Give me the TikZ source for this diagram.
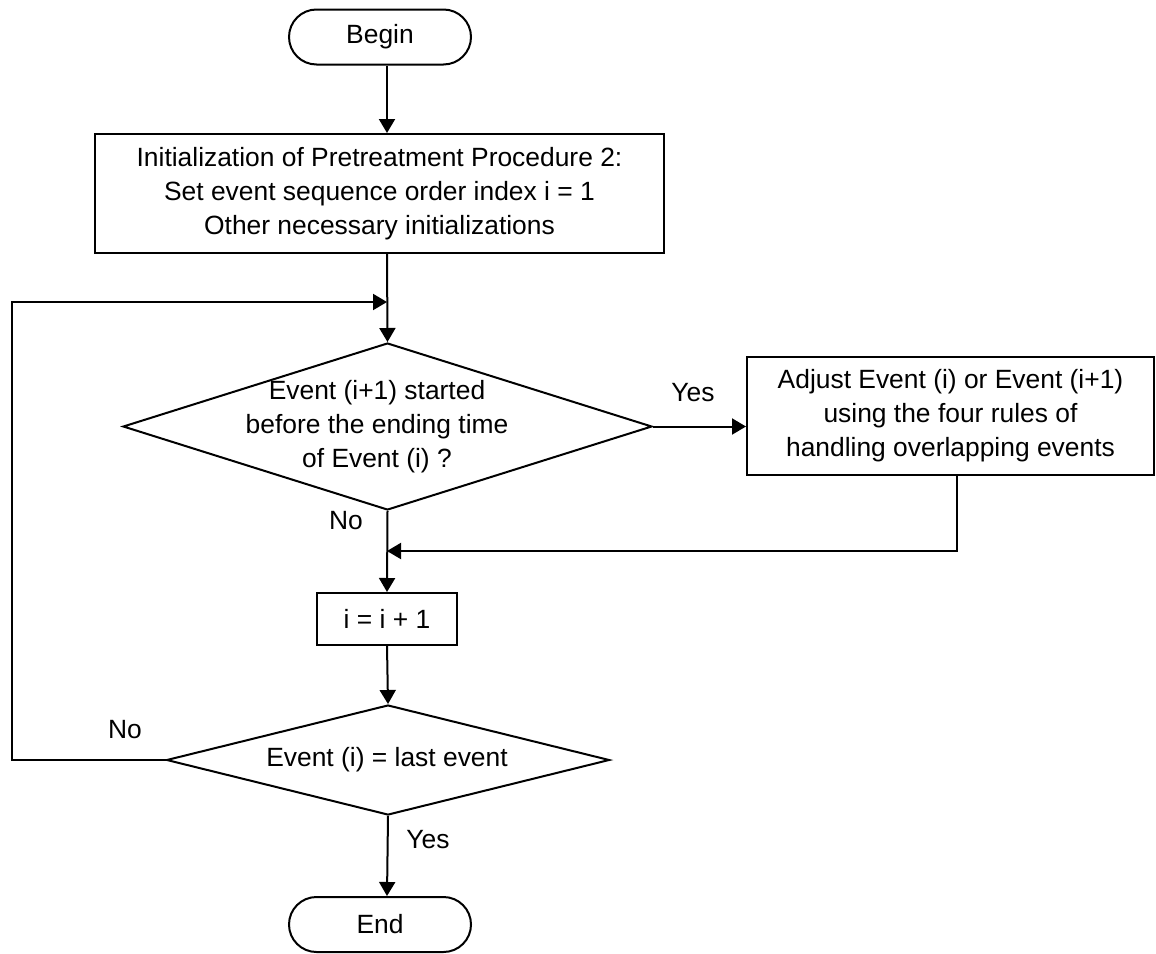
\documentclass[tikz,border=0pt]{standalone}
\usepackage{fontspec}
\setmainfont{Liberation Sans}
\usetikzlibrary{shapes.geometric,shapes.misc,arrows.meta}
\begin{document}
\begin{tikzpicture}[x=0.5pt,y=-0.5pt,
  font=\fontsize{13.2}{17}\selectfont,
  line width=1pt,
  term/.style={draw,rounded rectangle,minimum width=91pt,minimum height=27.5pt,inner sep=0pt},
  procbox/.style={draw,rectangle,align=center,inner sep=0pt},
  decision/.style={draw,diamond,inner sep=0pt},
  arr/.style={-{Triangle[length=7pt,width=8pt]}},
  lbl/.style={inner sep=0pt}]
\useasboundingbox (0,0) rectangle (1156,953);
\coordinate (spine) at (387,0);
\node[term] (begin) at (380,37) {Begin};
\node[procbox,minimum width=284.5pt,minimum height=59.5pt] (init) at (379.5,193.5)
  {Initialization of Pretreatment Procedure 2:\\Set event sequence order index i = 1\\Other necessary initializations};
\node[decision,minimum width=264.5pt,minimum height=83.5pt] (d1) at (387.5,426.5) {};
\node[align=center,inner sep=0pt] (d1t) at (377,426.5) {Event (i+1) started\\before the ending time\\of Event (i) ?};
\node[procbox,minimum width=203.5pt,minimum height=59pt] (adj) at (950.5,416)
  {Adjust Event (i) or Event (i+1)\\using the four rules of\\handling overlapping events};
\node[procbox,minimum width=70pt,minimum height=26pt] (inc) at (387,619) {i = i + 1};
\node[decision,minimum width=221.5pt,minimum height=55pt] (d2) at (388,760) {};
\node[inner sep=0pt] (d2t) at (387,760) {Event (i) = last event};
\node[term] (end) at (380,924.5) {End};
\coordinate (loopx) at (12,0);
\coordinate (loopy) at (0,302);
\coordinate (joiny) at (0,551);
\coordinate (adjx) at (957,0);
\draw[arr] (begin.south -| spine) -- (init.north -| spine);
\draw[arr] (init.south -| spine) -- (d1.north);
\draw[arr] (d2.west) -- (d2.west -| loopx) -- (loopx |- loopy) -- (spine |- loopy);
\draw[arr] (d1.east) -- (d1.east -| adj.west);
\draw[arr] (adj.south -| adjx) -- (adjx |- joiny) -- (spine |- joiny);
\draw[arr] (d1.south) -- (inc.north);
\draw[arr] (inc.south) -- (d2.north);
\draw[arr] (d2.south) -- (end.north -| spine);
\node[lbl] (yes1) at (693,393) {Yes};
\node[lbl] (no1) at (346,521) {No};
\node[lbl] (no2) at (125,730) {No};
\node[lbl] (yes2) at (428,840) {Yes};
\end{tikzpicture}
\end{document}
